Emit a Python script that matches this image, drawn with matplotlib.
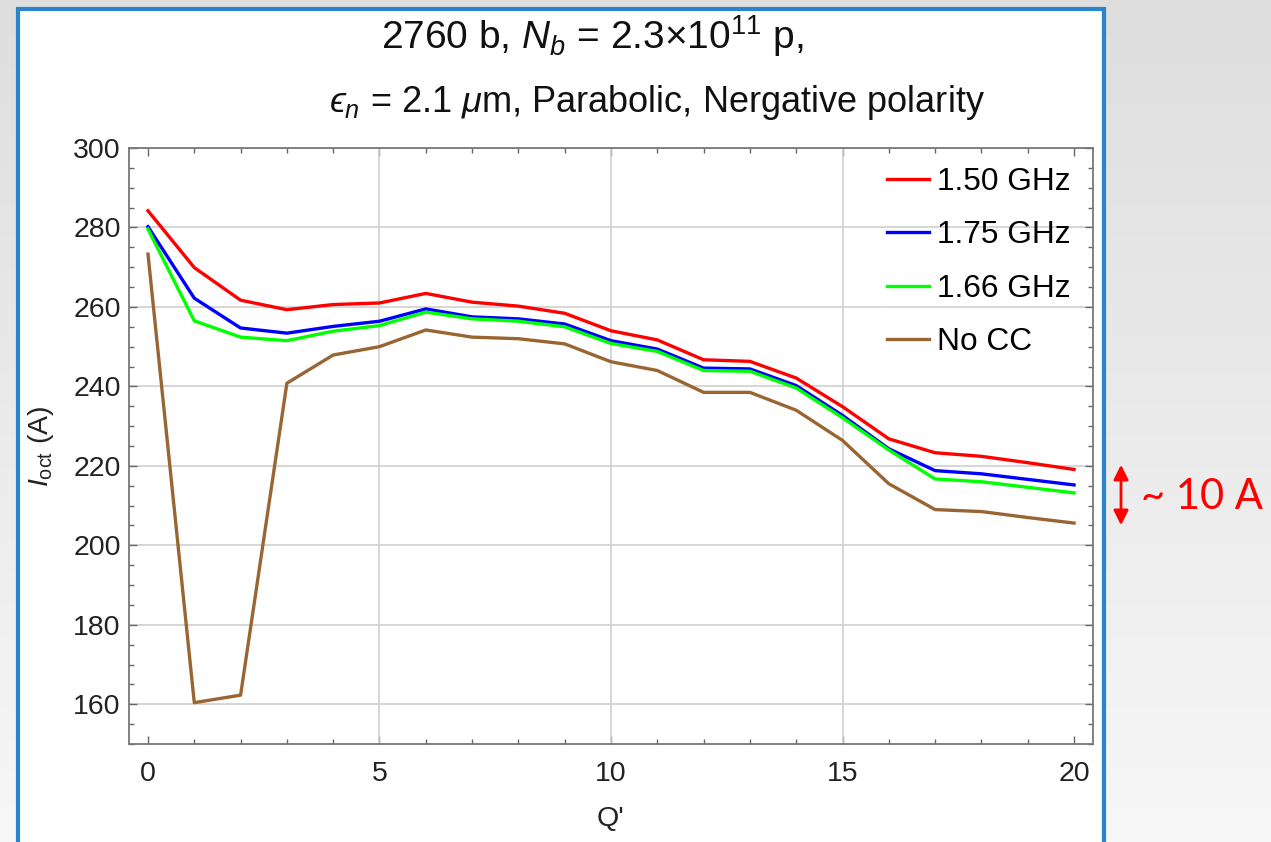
import matplotlib
matplotlib.use("Agg")
import matplotlib.pyplot as plt
from matplotlib.patches import Rectangle, FancyArrowPatch
import numpy as np

plt.rcParams['font.family'] = ['Liberation Sans', 'DejaVu Sans']
plt.rcParams['mathtext.fontset'] = 'custom'
plt.rcParams['mathtext.rm'] = 'Liberation Sans'
plt.rcParams['mathtext.it'] = 'Liberation Sans:italic'
plt.rcParams['mathtext.bf'] = 'Liberation Sans:bold'

# chromaticity Q' scan
q_prime = [0, 1, 2, 3, 4, 5, 6, 7, 8, 9, 10, 11, 12, 13, 14, 15, 16, 17, 18, 19, 20]

# octupole current threshold (A) per crab-cavity frequency
i_150 = [284.2, 269.9, 261.7, 259.3, 260.6, 261.0, 263.4, 261.2, 260.2, 258.4, 254.0,
         251.7, 246.7, 246.3, 242.1, 234.9, 226.8, 223.3, 222.4, 220.8, 219.1]
i_175 = [280.2, 262.2, 254.7, 253.4, 255.1, 256.4, 259.5, 257.5, 257.0, 255.7, 251.5,
         249.4, 244.6, 244.4, 240.2, 232.7, 224.3, 218.8, 218.0, 216.6, 215.2]
i_166 = [279.6, 256.5, 252.4, 251.5, 253.9, 255.3, 258.7, 257.0, 256.4, 255.0, 250.8,
         248.8, 244.0, 243.8, 239.6, 232.1, 224.0, 216.7, 216.0, 214.6, 213.2]
i_nocc = [273.3, 160.4, 162.3, 240.8, 247.9, 250.0, 254.2, 252.4, 252.0, 250.7, 246.2,
          244.0, 238.5, 238.5, 234.0, 226.4, 215.5, 209.0, 208.5, 207.0, 205.6]

labels = ['1.50 GHz', '1.75 GHz', '1.66 GHz', 'No CC']
colors = [(1, 0, 0), (0, 0, 1), (0, 1, 0), (0.6, 0.4, 0.2)]

W, H = 1271, 842
fig = plt.figure(figsize=(W / 100, H / 100), dpi=100)

# slide background
bg = fig.add_axes([0, 0, 1, 1])
grad = np.linspace(0, 1, 256)[:, None]
bg.imshow(grad, aspect='auto', cmap=matplotlib.colors.LinearSegmentedColormap.from_list(
    'bg', ['#dedede', '#f7f7f7']), extent=[0, 1, 0, 1])
bg.set_xlim(0, 1)
bg.set_ylim(0, 1)
bg.axis('off')
bg.add_patch(Rectangle((17.5 / W, -0.05), (1103.5 - 17.5) / W, 1.05 - 8.5 / H,
                       facecolor='white', edgecolor='#2b83cc', linewidth=3,
                       transform=bg.transAxes))

ax = fig.add_axes([129 / W, 1 - 744 / H, (1093 - 129) / W, (744 - 148) / H])
for vals, lab, col in zip([i_150, i_175, i_166, i_nocc], labels, colors):
    ax.plot(q_prime, vals, color=col, lw=2.4, label=lab, zorder=3)

ax.set_xlim(-0.41, 20.41)
ax.set_ylim(150, 300)
ax.set_xticks([0, 5, 10, 15, 20])
ax.set_xticks(range(0, 21), minor=True)
ax.set_yticks(range(160, 301, 20))
ax.set_yticks(range(150, 301, 5), minor=True)
ax.yaxis.grid(True, color='#cfcfcf', lw=1.2)
for xv in [5, 10, 15]:
    ax.axvline(xv, color='#cfcfcf', lw=1.2, zorder=1)
ax.set_axisbelow(True)

ax.tick_params(which='both', direction='in', top=True, right=True, color='#666666',
               labelsize=20.5, labelcolor='#222222')
ax.tick_params(axis='x', which='major', length=6, width=1, pad=12)
ax.tick_params(axis='y', which='major', length=6, width=1, pad=6)
ax.tick_params(which='minor', length=3.5, width=1)
for s in ax.spines.values():
    s.set_color('#777777')
    s.set_linewidth(1.3)

ax.set_xlabel("Q'", fontsize=20.5, color='#222222', labelpad=14)
ax.set_ylabel(r"$I_{\mathrm{oct}}$ (A)", fontsize=20.5, color='#222222', labelpad=12)

ax.legend(loc='upper right', frameon=False, fontsize=22.8, handlelength=1.3,
          handletextpad=0.28, labelspacing=0.74, borderaxespad=0.2,
          bbox_to_anchor=(0.997, 1.0))

fig.text(592 / W, 1 - 49 / H, r"2760 b, $N_b$ = 2.3×10$^{11}$ p,", ha='center',
         va='baseline', fontsize=28, color='#111111')
fig.text(657 / W, 1 - 112 / H, "$\u03f5_n$ = 2.1 $\\mu$m, Parabolic, Nergative polarity",
         ha='center', va='baseline', fontsize=26, color='#111111')

# ~10 A annotation
fig.add_artist(FancyArrowPatch((1121 / W, 1 - 462 / H), (1121 / W, 1 - 528 / H),
                               transform=fig.transFigure, arrowstyle='<|-|>',
                               mutation_scale=22, color='red', lw=2))
fig.text(1141 / W, 1 - 497 / H, "~ 10 A", color='red', fontsize=30,
         family=['Lato', 'DejaVu Sans'], ha='left', va='center')

fig.savefig('out.png', dpi=100)
